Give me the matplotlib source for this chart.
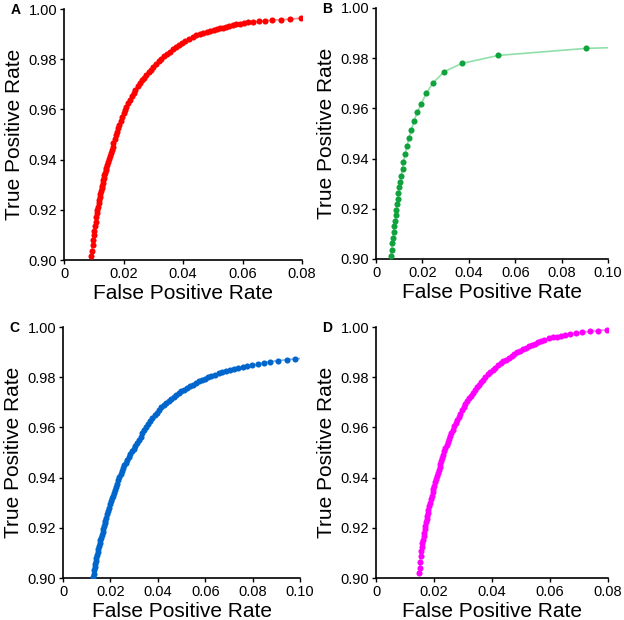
import matplotlib
matplotlib.use('Agg')
import matplotlib.pyplot as plt

plt.rcParams['font.family'] = ['Liberation Sans', 'DejaVu Sans']

# panel A (red)
fpr_a = [0.0092, 0.0094, 0.0096, 0.0098, 0.0100, 0.0102, 0.0104, 0.0106, 0.0108, 0.0110,
         0.0112, 0.0114, 0.0116, 0.0118, 0.0120, 0.0122, 0.0124, 0.0126, 0.0128, 0.0130,
         0.0132, 0.0134, 0.0136, 0.0138, 0.0140, 0.0142, 0.0145, 0.0148, 0.0151, 0.0154,
         0.0157, 0.0160, 0.0163, 0.0166, 0.0170, 0.0174, 0.0178, 0.0182, 0.0186, 0.0190,
         0.0195, 0.0200, 0.0205, 0.0210, 0.0216, 0.0222, 0.0228, 0.0234, 0.0240, 0.0247,
         0.0254, 0.0261, 0.0268, 0.0276, 0.0284, 0.0292, 0.0300, 0.0309, 0.0318, 0.0327,
         0.0336, 0.0345, 0.0355, 0.0365, 0.0375, 0.0386, 0.0397, 0.0408, 0.0420, 0.0432,
         0.0444, 0.0456, 0.0468, 0.0480, 0.0492, 0.0503, 0.0513, 0.0523, 0.0533, 0.0544,
         0.0555, 0.0567, 0.0579, 0.0592, 0.0605, 0.0619, 0.0636, 0.0655, 0.0676, 0.0700,
         0.0728, 0.0759, 0.0796]
tpr_a = [0.9015, 0.9037, 0.9058, 0.9078, 0.9098, 0.9117, 0.9135, 0.9153, 0.9170, 0.9186,
         0.9200, 0.9213, 0.9226, 0.9238, 0.9250, 0.9262, 0.9274, 0.9285, 0.9296, 0.9307,
         0.9318, 0.9328, 0.9338, 0.9348, 0.9357, 0.9366, 0.9379, 0.9392, 0.9404, 0.9416,
         0.9428, 0.9440, 0.9452, 0.9465, 0.9481, 0.9497, 0.9512, 0.9526, 0.9540, 0.9553,
         0.9569, 0.9584, 0.9598, 0.9610, 0.9625, 0.9639, 0.9653, 0.9666, 0.9679, 0.9692,
         0.9704, 0.9716, 0.9726, 0.9737, 0.9748, 0.9759, 0.9770, 0.9781, 0.9792, 0.9802,
         0.9812, 0.9821, 0.9830, 0.9840, 0.9848, 0.9857, 0.9866, 0.9874, 0.9882, 0.9889,
         0.9895, 0.9900, 0.9905, 0.9909, 0.9913, 0.9915, 0.9919, 0.9923, 0.9926, 0.9929,
         0.9932, 0.9936, 0.9939, 0.9941, 0.9944, 0.9947, 0.9949, 0.9951, 0.9953, 0.9956,
         0.9957, 0.9960, 0.9963]

# panel B (green)
fpr_b = [0.00648, 0.00676, 0.00704, 0.00732, 0.00761, 0.00789, 0.00817, 0.00845, 0.00873,
         0.00901, 0.00930, 0.00958, 0.01000, 0.01028, 0.01085, 0.01141, 0.01183, 0.01254,
         0.01338, 0.01423, 0.01521, 0.01634, 0.01775, 0.01958, 0.02169, 0.02465, 0.02930,
         0.03690, 0.05268, 0.09042, 0.13000]
tpr_b = [0.9013, 0.9037, 0.9064, 0.9085, 0.9108, 0.9130, 0.9153, 0.9174, 0.9197,
         0.9219, 0.9239, 0.9261, 0.9286, 0.9308, 0.9332, 0.9360, 0.9387, 0.9419,
         0.9449, 0.9484, 0.9512, 0.9548, 0.9585, 0.9619, 0.9662, 0.9702, 0.9746,
         0.9779, 0.9811, 0.9839, 0.9850]

# panel C (blue)
fpr_c = [0.0127, 0.0129, 0.0131, 0.0133, 0.0135, 0.0137, 0.0140, 0.0143, 0.0146, 0.0149,
         0.0152, 0.0155, 0.0158, 0.0161, 0.0164, 0.0167, 0.0170, 0.0173, 0.0176, 0.0179,
         0.0182, 0.0186, 0.0190, 0.0194, 0.0198, 0.0202, 0.0206, 0.0210, 0.0214, 0.0218,
         0.0223, 0.0228, 0.0233, 0.0238, 0.0243, 0.0248, 0.0253, 0.0259, 0.0265, 0.0271,
         0.0277, 0.0284, 0.0291, 0.0298, 0.0305, 0.0312, 0.0319, 0.0327, 0.0335, 0.0343,
         0.0351, 0.0359, 0.0368, 0.0377, 0.0386, 0.0395, 0.0405, 0.0415, 0.0425, 0.0435,
         0.0445, 0.0455, 0.0466, 0.0477, 0.0488, 0.0499, 0.0511, 0.0523, 0.0535, 0.0547,
         0.0560, 0.0573, 0.0586, 0.0599, 0.0612, 0.0626, 0.0641, 0.0656, 0.0671, 0.0687,
         0.0704, 0.0721, 0.0738, 0.0757, 0.0777, 0.0798, 0.0821, 0.0846, 0.0873, 0.0908,
         0.0944, 0.0979, 0.1025]
tpr_c = [0.9004, 0.9018, 0.9032, 0.9045, 0.9057, 0.9067, 0.9080, 0.9093, 0.9104, 0.9116,
         0.9127, 0.9138, 0.9150, 0.9161, 0.9172, 0.9184, 0.9195, 0.9207, 0.9218, 0.9229,
         0.9240, 0.9255, 0.9269, 0.9281, 0.9293, 0.9305, 0.9317, 0.9328, 0.9339, 0.9350,
         0.9363, 0.9376, 0.9389, 0.9401, 0.9413, 0.9425, 0.9437, 0.9449, 0.9460, 0.9471,
         0.9481, 0.9493, 0.9505, 0.9516, 0.9527, 0.9539, 0.9550, 0.9563, 0.9576, 0.9589,
         0.9601, 0.9613, 0.9626, 0.9637, 0.9648, 0.9658, 0.9669, 0.9680, 0.9689, 0.9697,
         0.9705, 0.9713, 0.9721, 0.9729, 0.9737, 0.9744, 0.9751, 0.9758, 0.9765, 0.9771,
         0.9778, 0.9784, 0.9789, 0.9795, 0.9800, 0.9805, 0.9810, 0.9815, 0.9819, 0.9824,
         0.9828, 0.9832, 0.9836, 0.9840, 0.9844, 0.9848, 0.9852, 0.9857, 0.9862, 0.9866,
         0.9870, 0.9873, 0.9877]

# panel D (magenta)
fpr_d = [0.01485, 0.0150, 0.0152, 0.0154, 0.0156, 0.0158, 0.0160, 0.0162, 0.0164, 0.0166,
         0.0168, 0.0170, 0.0172, 0.0174, 0.0176, 0.0178, 0.0180, 0.0183, 0.0186, 0.0189,
         0.0192, 0.0195, 0.0198, 0.0201, 0.0204, 0.0207, 0.0210, 0.0213, 0.0216, 0.0219,
         0.0222, 0.0225, 0.0228, 0.0231, 0.0235, 0.0239, 0.0243, 0.0247, 0.0251, 0.0255,
         0.0260, 0.0265, 0.0270, 0.0275, 0.0280, 0.0285, 0.0290, 0.0296, 0.0302, 0.0308,
         0.0314, 0.0320, 0.0326, 0.0333, 0.0340, 0.0347, 0.0354, 0.0361, 0.0369, 0.0377,
         0.0385, 0.0393, 0.0402, 0.0411, 0.0420, 0.0429, 0.0438, 0.0447, 0.0457, 0.0467,
         0.0477, 0.0487, 0.0497, 0.0507, 0.0517, 0.0527, 0.0537, 0.0547, 0.0558, 0.0569,
         0.0580, 0.0596, 0.0609, 0.0622, 0.0636, 0.0653, 0.0670, 0.0690, 0.0711, 0.0737,
         0.0765, 0.0795]
tpr_d = [0.9020, 0.9040, 0.9063, 0.9087, 0.9108, 0.9125, 0.9140, 0.9153, 0.9167, 0.9181,
         0.9195, 0.9209, 0.9223, 0.9236, 0.9248, 0.9259, 0.9270, 0.9285, 0.9299, 0.9313,
         0.9327, 0.9341, 0.9355, 0.9368, 0.9381, 0.9393, 0.9405, 0.9418, 0.9431, 0.9444,
         0.9456, 0.9468, 0.9480, 0.9492, 0.9506, 0.9519, 0.9531, 0.9543, 0.9554, 0.9565,
         0.9578, 0.9591, 0.9604, 0.9617, 0.9630, 0.9643, 0.9655, 0.9668, 0.9681, 0.9693,
         0.9704, 0.9716, 0.9726, 0.9738, 0.9750, 0.9761, 0.9771, 0.9780, 0.9791, 0.9801,
         0.9811, 0.9820, 0.9829, 0.9838, 0.9847, 0.9855, 0.9863, 0.9869, 0.9877, 0.9885,
         0.9892, 0.9899, 0.9905, 0.9911, 0.9917, 0.9923, 0.9929, 0.9934, 0.9940, 0.9945,
         0.9949, 0.9955, 0.9959, 0.9962, 0.9966, 0.9969, 0.9973, 0.9976, 0.9979, 0.9983,
         0.9986, 0.9989]

yticks = [0.90, 0.92, 0.94, 0.96, 0.98, 1.00]
ytick_labels = ['0.90', '0.92', '0.94', '0.96', '0.98', '1.00']
xticks_08 = [0, 0.02, 0.04, 0.06, 0.08]
xticks_10 = [0, 0.02, 0.04, 0.06, 0.08, 0.10]

panels = [
    ('A', fpr_a, tpr_a, '#ff0000', '#ff8c8c', 0.08, xticks_08, [0.1026, 0.5806, 0.3814, 0.4048]),
    ('B', fpr_b, tpr_b, '#10a23c', '#90dfaa', 0.10, xticks_10, [0.6026, 0.5823, 0.3720, 0.4048]),
    ('C', fpr_c, tpr_c, '#0066cc', '#80b3e6', 0.10, xticks_10, [0.1010, 0.0677, 0.3800, 0.4048]),
    ('D', fpr_d, tpr_d, '#ff00ff', '#ff8cff', 0.08, xticks_08, [0.6026, 0.0677, 0.3720, 0.4048]),
]

fig = plt.figure(figsize=(6.24, 6.2), dpi=100)

for letter, fpr, tpr, color, linecolor, xmax, xticks, rect in panels:
    ax = fig.add_axes(rect)
    ax.plot(fpr, tpr, color=linecolor, lw=1.2, zorder=2)
    ax.plot(fpr, tpr, 'o', color=color, markersize=4.4, markeredgewidth=0, zorder=3)
    ax.set_xlim(0, xmax)
    ax.set_ylim(0.90, 1.00)
    ax.set_xticks(xticks)
    ax.set_xticklabels(['0'] + ['%.2f' % t for t in xticks[1:]])
    ax.set_yticks(yticks)
    ax.set_yticklabels(ytick_labels)
    for side in ['top', 'right']:
        ax.spines[side].set_visible(False)
    for side in ['left', 'bottom']:
        ax.spines[side].set_linewidth(1.2)
    ax.tick_params(direction='out', length=3, width=1, labelsize=10.5, pad=2)
    ax.set_xlabel('False Positive Rate', fontsize=15, labelpad=2)
    ax.set_ylabel('True Positive Rate', fontsize=15, labelpad=3)
    fig.text(rect[0] - 0.086, rect[1] + rect[3] - 0.002, letter,
             fontsize=10, fontweight='bold', va='center', ha='left')

plt.savefig('out.png', dpi=100)
